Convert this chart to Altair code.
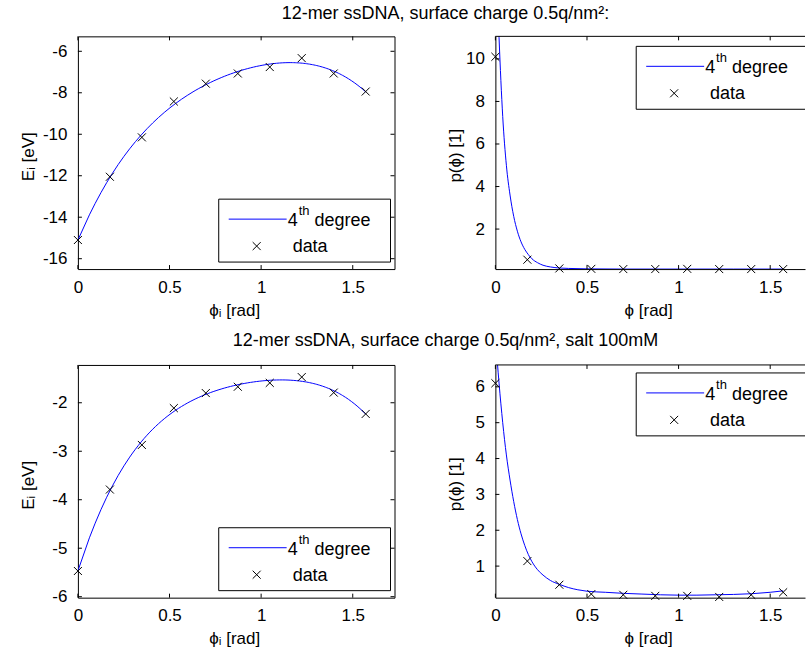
import altair as alt
import pandas as pd

# ---------------- data ----------------
PHI = [0.0, 0.1745, 0.3491, 0.5236, 0.6981, 0.8727, 1.0472, 1.2217, 1.3963, 1.5708]

E_TOP = [-15.1, -12.05, -10.15, -8.42, -7.56, -7.07, -6.76, -6.33, -7.07, -7.94]
P_TOP = [10.1, 0.56, 0.15, 0.13, 0.12, 0.12, 0.13, 0.12, 0.12, 0.12]
E_BOT = [-5.47, -3.79, -2.87, -2.11, -1.80, -1.67, -1.59, -1.47, -1.79, -2.23]
P_BOT = [6.1, 1.14, 0.48, 0.22, 0.20, 0.17, 0.17, 0.14, 0.20, 0.27]

# fitted distribution curves
PT_CURVE_X = [0.0, 0.02, 0.04, 0.06, 0.08, 0.10, 0.12, 0.14, 0.16, 0.18, 0.20, 0.23,
              0.26, 0.30, 0.35, 0.40, 0.50, 0.70, 1.00, 1.30, 1.5708]
PT_CURVE_Y = [16.0, 11.0, 7.3, 5.0, 3.6, 2.6, 1.9, 1.4, 1.05, 0.8, 0.6, 0.42,
              0.3, 0.22, 0.17, 0.15, 0.13, 0.12, 0.12, 0.12, 0.12]
PB_CURVE_X = [0.0, 0.02, 0.04, 0.06, 0.08, 0.10, 0.12, 0.14, 0.16, 0.18, 0.20, 0.23,
              0.26, 0.30, 0.35, 0.40, 0.45, 0.50, 0.60, 0.70, 0.80, 0.90, 1.00,
              1.10, 1.20, 1.30, 1.40, 1.50, 1.5708]
PB_CURVE_Y = [7.4, 6.1, 5.0, 4.1, 3.4, 2.8, 2.3, 1.9, 1.58, 1.32, 1.12, 0.9,
              0.75, 0.6, 0.49, 0.4, 0.34, 0.3, 0.27, 0.24, 0.22, 0.2, 0.19,
              0.19, 0.2, 0.21, 0.23, 0.27, 0.31]

X_TICKS = [0, 0.5, 1, 1.5]
YT_TOP_E = [-16, -14, -12, -10, -8, -6]
YT_TOP_P = [2, 4, 6, 8, 10]
YT_BOT_E = [-6, -5, -4, -3, -2]
YT_BOT_P = [1, 2, 3, 4, 5, 6]

TITLE_TOP = "12-mer ssDNA, surface charge 0.5q/nm²:"
TITLE_BOT = "12-mer ssDNA, surface charge 0.5q/nm², salt 100mM"
LEG_FIT = ["4", "th", "degree"]
LEG_DATA = "data"

# ---------------- styling ----------------
FONT = "Liberation Sans"
FS = 17
LFS = 18
BLUE = "#0000ff"
X_PATH = "M-1,-1L1,1M1,-1L-1,1"
W_L, W_R, H = 317, 310, 233
GAP_X, GAP_Y = 101, 96


def legend_layers(width, box_top, open_right):
    c = alt.Chart(pd.DataFrame({"a": [0]}))
    bx0 = 141
    bx1 = width if open_right else 313
    layers = []
    if open_right:
        layers.append(c.mark_rect(fill="white", strokeWidth=0).encode(
            x=alt.value(bx0), x2=alt.value(bx1), y=alt.value(box_top), y2=alt.value(box_top + 63)))
        for yy in (box_top, box_top + 63):
            layers.append(c.mark_rule(color="black", strokeWidth=1).encode(
                x=alt.value(bx0), x2=alt.value(bx1), y=alt.value(yy)))
        layers.append(c.mark_rule(color="black", strokeWidth=1).encode(
            x=alt.value(bx0), y=alt.value(box_top), y2=alt.value(box_top + 63)))
    else:
        layers.append(c.mark_rect(fill="white", stroke="black", strokeWidth=1).encode(
            x=alt.value(bx0), x2=alt.value(bx1), y=alt.value(box_top), y2=alt.value(box_top + 63)))
    ly = box_top + 20
    layers.append(c.mark_rule(color=BLUE, strokeWidth=1).encode(
        x=alt.value(151), x2=alt.value(209), y=alt.value(ly)))
    layers.append(c.mark_text(text=LEG_FIT[0], font=FONT, fontSize=LFS, align="left",
                              baseline="alphabetic", color="black").encode(
        x=alt.value(210), y=alt.value(box_top + 27)))
    layers.append(c.mark_text(text=LEG_FIT[1], font=FONT, fontSize=13, align="left",
                              baseline="alphabetic", color="black").encode(
        x=alt.value(221), y=alt.value(box_top + 16)))
    layers.append(c.mark_text(text=LEG_FIT[2], font=FONT, fontSize=LFS, align="left",
                              baseline="alphabetic", color="black").encode(
        x=alt.value(237), y=alt.value(box_top + 27)))
    layers.append(c.mark_point(shape=X_PATH, size=64, color="black", strokeWidth=1,
                               filled=False, opacity=1).encode(
        x=alt.value(179), y=alt.value(box_top + 47)))
    layers.append(c.mark_text(text=LEG_DATA, font=FONT, fontSize=LFS, align="left",
                              baseline="alphabetic", color="black").encode(
        x=alt.value(215), y=alt.value(box_top + 53)))
    return layers


def panel(yvals, y_domain, y_ticks, y_title, x_title, x_domain, width,
          curve=None, legend_top=163, right_side=True, ytitle_x=-49, ytitle_y=120,
          row_title=None, title_y=-17):
    xs = alt.Scale(domain=x_domain, nice=False, zero=False)
    ys = alt.Scale(domain=y_domain, nice=False, zero=False)
    x_axis = alt.Axis(values=X_TICKS, labelExpr="'' + datum.value", title=x_title,
                      titleX=width / 2 - 2, titleY=41, titleBaseline="middle",
                      ticks=False, domain=not right_side, domainColor="black",
                      grid=False, labelPadding=10, labelFlush=False)
    y_axis = alt.Axis(values=y_ticks, labelExpr="'' + datum.value", title=y_title,
                      titleX=ytitle_x, titleY=ytitle_y, titleBaseline="middle",
                      ticks=False, domain=not right_side, domainColor="black",
                      grid=False, labelPadding=11, labelFlush=False)
    X = alt.X("x:Q", scale=xs, axis=x_axis)
    Y = alt.Y("y:Q", scale=ys, axis=y_axis)

    pts_df = pd.DataFrame({"x": PHI, "y": yvals})
    base = alt.Chart(pts_df)
    if curve is None:
        line = base.transform_regression("x", "y", method="poly", order=4).mark_line(
            color=BLUE, strokeWidth=1, clip=True).encode(x=X, y=Y)
    else:
        cdf = pd.DataFrame({"x": curve[0], "y": curve[1]})
        line = alt.Chart(cdf).mark_line(color=BLUE, strokeWidth=1, clip=True,
                                        interpolate="monotone").encode(x=X, y=Y)
    pts = base.mark_point(shape=X_PATH, size=64, color="black", strokeWidth=1,
                          filled=False, opacity=1).encode(x=X, y=Y)

    xt = alt.Chart(pd.DataFrame({"x": X_TICKS}))
    yt = alt.Chart(pd.DataFrame({"y": y_ticks}))
    decor = [
        xt.mark_rule(color="black", strokeWidth=1).encode(x=X, y=alt.value(H), y2=alt.value(H - 4)),
        xt.mark_rule(color="black", strokeWidth=1).encode(x=X, y=alt.value(0), y2=alt.value(4)),
        yt.mark_rule(color="black", strokeWidth=1).encode(y=Y, x=alt.value(0), x2=alt.value(4)),
    ]
    one = alt.Chart(pd.DataFrame({"a": [0]}))
    if right_side:
        decor.append(yt.mark_rule(color="black", strokeWidth=1).encode(
            y=Y, x=alt.value(width - 4), x2=alt.value(width)))
    else:
        decor.append(one.mark_rule(color="black", strokeWidth=1).encode(
            x=alt.value(0), x2=alt.value(width), y=alt.value(0)))

    layers = [line, pts] + decor + legend_layers(width, legend_top, not right_side)
    if row_title is not None:
        cx = (W_L + GAP_X + W_R + 8) / 2
        layers.append(one.mark_text(text=row_title, font=FONT, fontSize=18, align="center",
                                    baseline="alphabetic", color="black").encode(
            x=alt.value(cx), y=alt.value(title_y)))
    ch = alt.layer(*layers).properties(width=width, height=H)
    if not right_side:
        ch = ch.properties(view=alt.ViewBackground(stroke="transparent"))
    return ch


XD_L = [0, 1.728]
XD_R = [0, 1.69]

tl = panel(E_TOP, [-16.5, -5.28], YT_TOP_E, "Eᵢ [eV]", "ϕᵢ [rad]", XD_L, W_L,
           row_title=TITLE_TOP, title_y=-17)
tr = panel(P_TOP, [0.12, 11.06], YT_TOP_P, "p(ϕ) [1]", "ϕ [rad]", XD_R, W_R,
           curve=(PT_CURVE_X, PT_CURVE_Y), legend_top=10, right_side=False,
           ytitle_x=-40, ytitle_y=119)
bl = panel(E_BOT, [-6.02, -1.22], YT_BOT_E, "Eᵢ [eV]", "ϕᵢ [rad]", XD_L, W_L,
           legend_top=163, row_title=TITLE_BOT, title_y=-19)
br = panel(P_BOT, [0.12, 6.61], YT_BOT_P, "p(ϕ) [1]", "ϕ [rad]", XD_R, W_R,
           curve=(PB_CURVE_X, PB_CURVE_Y), legend_top=8, right_side=False,
           ytitle_x=-40, ytitle_y=119)

chart = alt.concat(tl, tr, bl, br, columns=2, bounds="flush",
                   spacing=alt.RowColnumber(row=GAP_Y, column=GAP_X)).properties(
    padding={"left": 19, "top": 4, "right": 0, "bottom": 0},
    background="white",
).configure(font=FONT).configure_view(stroke="black", strokeWidth=1).configure_axis(
    labelFont=FONT, labelFontSize=FS, labelColor="black",
    titleFont=FONT, titleFontSize=FS, titleFontWeight="normal", titleColor="black",
)

chart.save("out.html", embed_options={"renderer": "svg", "actions": False})
